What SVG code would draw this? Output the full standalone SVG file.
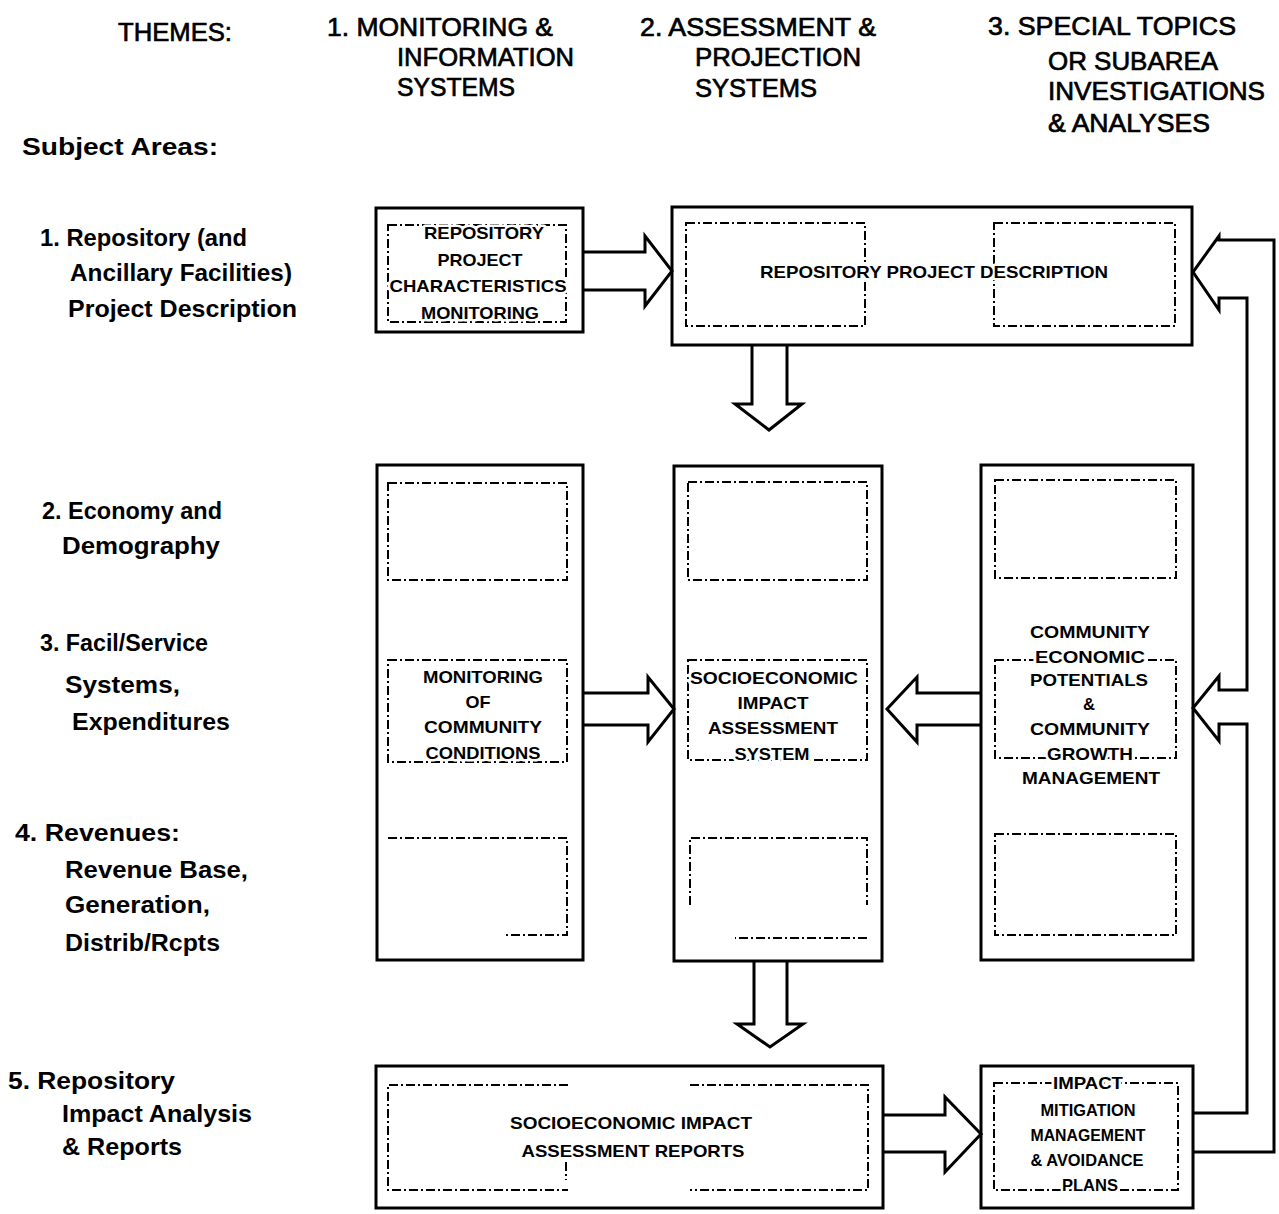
<svg xmlns="http://www.w3.org/2000/svg" width="1279" height="1214" viewBox="0 0 1279 1214">
<style>
.bg{fill:#fff}
.box{fill:none;stroke:#000;stroke-width:3}
.dash{fill:none;stroke:#000;stroke-width:2;stroke-dasharray:9 3 2 3}
.con{fill:none;stroke:#000;stroke-width:3;stroke-linejoin:miter}
.hdr{font-family:"Liberation Sans",Arial,sans-serif;font-size:26px;fill:#000;stroke:#000;stroke-width:0.7}
.lbl{font-family:"Liberation Sans",Arial,sans-serif;font-size:24px;font-weight:bold;fill:#000}
.bt{font-family:"Liberation Sans",Arial,sans-serif;font-size:17px;font-weight:bold;fill:#000;text-anchor:middle;stroke:#fff;stroke-width:5;paint-order:stroke;stroke-linejoin:round}
</style>
<rect class="bg" x="0" y="0" width="1279" height="1214"/>

<g id="headers">
<text class="hdr" x="118" y="41" textLength="114" lengthAdjust="spacingAndGlyphs">THEMES:</text>
<text class="hdr" x="327" y="36" textLength="226" lengthAdjust="spacingAndGlyphs">1. MONITORING &amp;</text>
<text class="hdr" x="397" y="66" textLength="177" lengthAdjust="spacingAndGlyphs">INFORMATION</text>
<text class="hdr" x="397" y="96" textLength="118" lengthAdjust="spacingAndGlyphs">SYSTEMS</text>
<text class="hdr" x="640" y="36" textLength="236" lengthAdjust="spacingAndGlyphs">2. ASSESSMENT &amp;</text>
<text class="hdr" x="695" y="66" textLength="166" lengthAdjust="spacingAndGlyphs">PROJECTION</text>
<text class="hdr" x="695" y="97" textLength="122" lengthAdjust="spacingAndGlyphs">SYSTEMS</text>
<text class="hdr" x="988" y="35" textLength="248" lengthAdjust="spacingAndGlyphs">3. SPECIAL TOPICS</text>
<text class="hdr" x="1048" y="70" textLength="170" lengthAdjust="spacingAndGlyphs">OR SUBAREA</text>
<text class="hdr" x="1048" y="100" textLength="217" lengthAdjust="spacingAndGlyphs">INVESTIGATIONS</text>
<text class="hdr" x="1048" y="132" textLength="162" lengthAdjust="spacingAndGlyphs">&amp; ANALYSES</text>
</g>

<g id="subject-areas">
<text class="lbl" x="22" y="155" textLength="196" lengthAdjust="spacingAndGlyphs">Subject Areas:</text>
<text class="lbl" x="40" y="246" textLength="207" lengthAdjust="spacingAndGlyphs">1. Repository (and</text>
<text class="lbl" x="70" y="281" textLength="222" lengthAdjust="spacingAndGlyphs">Ancillary Facilities)</text>
<text class="lbl" x="68" y="317" textLength="229" lengthAdjust="spacingAndGlyphs">Project Description</text>
<text class="lbl" x="42" y="519" textLength="180" lengthAdjust="spacingAndGlyphs">2. Economy and</text>
<text class="lbl" x="62" y="554" textLength="158" lengthAdjust="spacingAndGlyphs">Demography</text>
<text class="lbl" x="40" y="651" textLength="168" lengthAdjust="spacingAndGlyphs">3. Facil/Service</text>
<text class="lbl" x="65" y="693" textLength="115" lengthAdjust="spacingAndGlyphs">Systems,</text>
<text class="lbl" x="72" y="730" textLength="158" lengthAdjust="spacingAndGlyphs">Expenditures</text>
<text class="lbl" x="15" y="841" textLength="165" lengthAdjust="spacingAndGlyphs">4. Revenues:</text>
<text class="lbl" x="65" y="878" textLength="183" lengthAdjust="spacingAndGlyphs">Revenue Base,</text>
<text class="lbl" x="65" y="913" textLength="145" lengthAdjust="spacingAndGlyphs">Generation,</text>
<text class="lbl" x="65" y="951" textLength="155" lengthAdjust="spacingAndGlyphs">Distrib/Rcpts</text>
<text class="lbl" x="8" y="1089" textLength="167" lengthAdjust="spacingAndGlyphs">5. Repository</text>
<text class="lbl" x="62" y="1122" textLength="190" lengthAdjust="spacingAndGlyphs">Impact Analysis</text>
<text class="lbl" x="62" y="1155" textLength="120" lengthAdjust="spacingAndGlyphs">&amp; Reports</text>
</g>

<g id="connectors">
<path class="con" d="M583,252 H645 V236 L672,271 L645,306 V290 H583"/>
<path class="con" d="M752,345 V404 H735 L769,430 L802,404 H787 V345"/>
<path class="con" d="M583,693 H648 V677 L674,709 L648,742 V725 H583"/>
<path class="con" d="M981,693 H917 V677 L887,709 L917,742 V725 H981"/>
<path class="con" d="M754,961 V1024 H737 L770,1047 L803,1024 H787 V961"/>
<path class="con" d="M883,1115 H945 V1097 L981,1134 L945,1172 V1152 H883"/>
<path class="con" d="M1193,1152 H1274 V240 H1219 V236 L1193,272 L1219,310 V298 H1247 V690 H1219 V676 L1193,708 L1219,741 V724 H1247 V1113 H1193"/>
</g>

<g id="node-project-monitoring">
<rect class="box" x="376" y="208" width="207" height="124"/>
<rect class="dash" x="388" y="225" width="178" height="97"/>
<text class="bt" x="484" y="239" textLength="120" lengthAdjust="spacingAndGlyphs">REPOSITORY</text>
<text class="bt" x="480" y="266" textLength="85" lengthAdjust="spacingAndGlyphs">PROJECT</text>
<text class="bt" x="478" y="292" textLength="177" lengthAdjust="spacingAndGlyphs">CHARACTERISTICS</text>
<text class="bt" x="480" y="319" textLength="118" lengthAdjust="spacingAndGlyphs">MONITORING</text>
</g>

<g id="node-project-description">
<rect class="box" x="672" y="207" width="520" height="138"/>
<rect class="dash" x="686" y="223" width="179" height="103"/>
<rect class="dash" x="994" y="223" width="181" height="103"/>
<text class="bt" x="934" y="278" textLength="348" lengthAdjust="spacingAndGlyphs">REPOSITORY PROJECT DESCRIPTION</text>
</g>

<g id="node-community-conditions">
<rect class="box" x="377" y="465" width="206" height="495"/>
<rect class="dash" x="388" y="483" width="179" height="97"/>
<rect class="dash" x="388" y="660" width="179" height="102"/>
<path class="dash" d="M388,838 H567 V935 H505"/>
<text class="bt" x="483" y="683" textLength="120" lengthAdjust="spacingAndGlyphs">MONITORING</text>
<text class="bt" x="478" y="708" textLength="25" lengthAdjust="spacingAndGlyphs">OF</text>
<text class="bt" x="483" y="733" textLength="118" lengthAdjust="spacingAndGlyphs">COMMUNITY</text>
<text class="bt" x="483" y="759" textLength="115" lengthAdjust="spacingAndGlyphs">CONDITIONS</text>
</g>

<g id="node-impact-assessment-system">
<rect class="box" x="674" y="466" width="208" height="495"/>
<rect class="dash" x="688" y="482" width="179" height="98"/>
<rect class="dash" x="688" y="660" width="179" height="100"/>
<path class="dash" d="M690,905 V838 H867 V905 M867,938 H735"/>
<text class="bt" x="774" y="684" textLength="168" lengthAdjust="spacingAndGlyphs">SOCIOECONOMIC</text>
<text class="bt" x="773" y="709" textLength="71" lengthAdjust="spacingAndGlyphs">IMPACT</text>
<text class="bt" x="773" y="734" textLength="130" lengthAdjust="spacingAndGlyphs">ASSESSMENT</text>
<text class="bt" x="772" y="760" textLength="75" lengthAdjust="spacingAndGlyphs">SYSTEM</text>
</g>

<g id="node-growth-management">
<rect class="box" x="981" y="465" width="212" height="495"/>
<rect class="dash" x="995" y="480" width="181" height="98"/>
<rect class="dash" x="995" y="660" width="181" height="98"/>
<rect class="dash" x="995" y="834" width="181" height="101"/>
<text class="bt" x="1090" y="638" textLength="120" lengthAdjust="spacingAndGlyphs">COMMUNITY</text>
<text class="bt" x="1090" y="663" textLength="110" lengthAdjust="spacingAndGlyphs">ECONOMIC</text>
<text class="bt" x="1089" y="686" textLength="118" lengthAdjust="spacingAndGlyphs">POTENTIALS</text>
<text class="bt" x="1089" y="710" textLength="12" lengthAdjust="spacingAndGlyphs">&amp;</text>
<text class="bt" x="1090" y="735" textLength="120" lengthAdjust="spacingAndGlyphs">COMMUNITY</text>
<text class="bt" x="1090" y="760" textLength="86" lengthAdjust="spacingAndGlyphs">GROWTH</text>
<text class="bt" x="1091" y="784" textLength="138" lengthAdjust="spacingAndGlyphs">MANAGEMENT</text>
</g>

<g id="node-impact-reports">
<rect class="box" x="376" y="1066" width="507" height="142"/>
<path class="dash" d="M568,1085 H388 V1190 H568 M690,1085 H868 V1190 H690 M566,1162 V1180"/>
<text class="bt" x="631" y="1129" textLength="242" lengthAdjust="spacingAndGlyphs">SOCIOECONOMIC IMPACT</text>
<text class="bt" x="633" y="1157" textLength="223" lengthAdjust="spacingAndGlyphs">ASSESSMENT REPORTS</text>
</g>

<g id="node-mitigation-plans">
<rect class="box" x="981" y="1066" width="212" height="142"/>
<rect class="dash" x="994" y="1083" width="184" height="107"/>
<text class="bt" x="1088" y="1089" textLength="70" lengthAdjust="spacingAndGlyphs">IMPACT</text>
<text class="bt" x="1088" y="1116" textLength="95" lengthAdjust="spacingAndGlyphs">MITIGATION</text>
<text class="bt" x="1088" y="1141" textLength="115" lengthAdjust="spacingAndGlyphs">MANAGEMENT</text>
<text class="bt" x="1087" y="1166" textLength="113" lengthAdjust="spacingAndGlyphs">&amp; AVOIDANCE</text>
<text class="bt" x="1090" y="1191" textLength="56" lengthAdjust="spacingAndGlyphs">PLANS</text>
</g>
</svg>
